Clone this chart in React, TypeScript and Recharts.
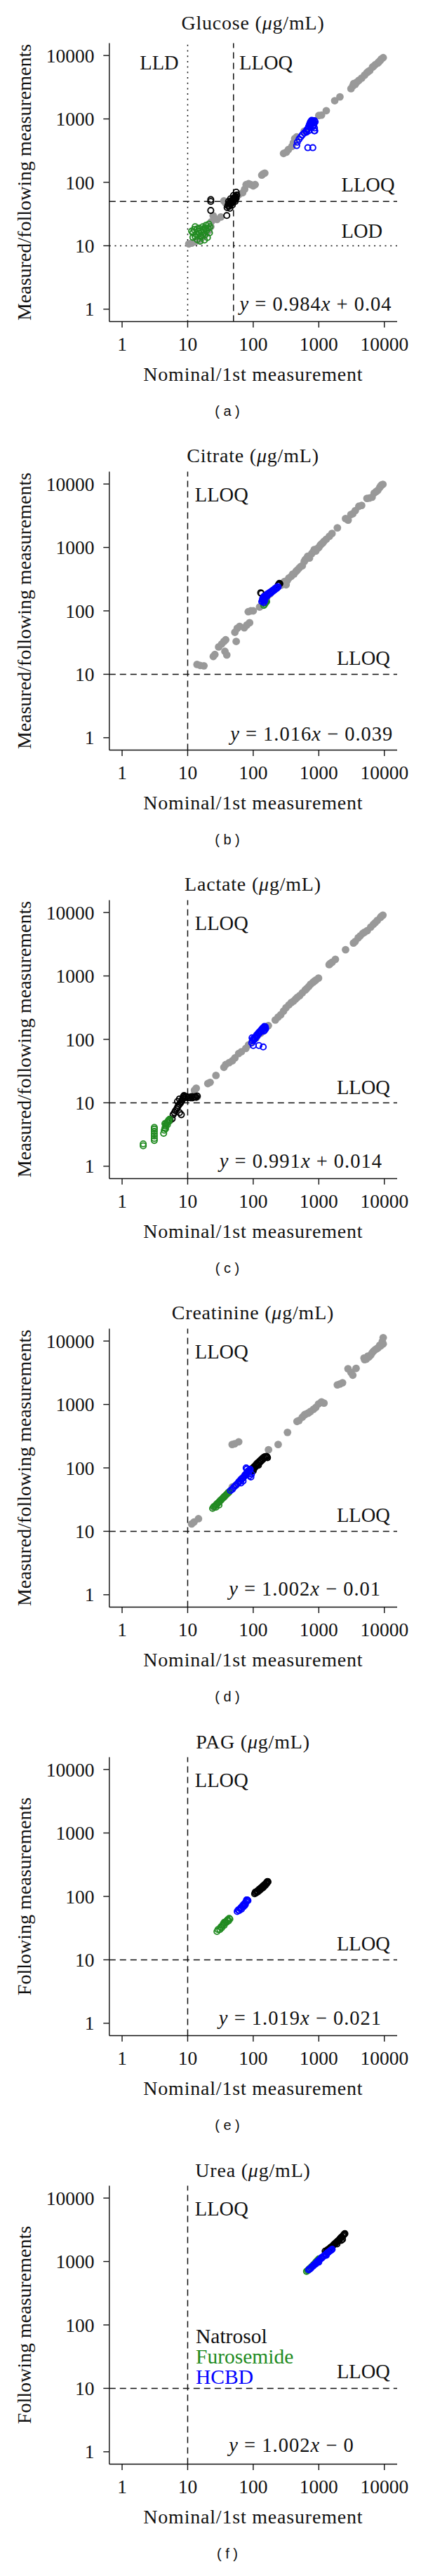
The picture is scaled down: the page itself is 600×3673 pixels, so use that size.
import React from 'react';
import { ScatterChart, Scatter, XAxis, YAxis, ReferenceLine } from 'recharts';

type Pt = [number, number];

// [nominal / 1st measurement, measured / following measurement]
const glucoseOther: Pt[] = [
  [10.4, 10.7], [11.5, 11], [13, 11.6], [15, 12.5], [16.5, 13.5], [18, 14.5], [19.5, 16], [21, 17.5],
  [22.5, 20], [24.5, 29.8], [23, 24], [28, 26], [32, 28.4], [35.7, 51], [38, 47], [55, 60], [60, 64],
  [69, 68.6], [74, 78], [78, 92], [85, 95], [92, 92], [100, 88], [107, 92], [135, 130], [142, 136],
  [150, 140], [290, 286], [320, 300], [345, 330], [390, 370], [410, 420], [430, 490], [460, 520],
  [600, 640], [1000, 1130], [1100, 1150], [1300, 1350], [1750, 1940], [2100, 2230], [3100, 3000],
  [3300, 3300], [3400, 3600], [3600, 3500], [3800, 3800], [4080, 4050], [4500, 4400], [5000, 4900],
  [5430, 5370], [5700, 5600], [6000, 5800], [6600, 6580], [6900, 6800], [7300, 7200], [7940, 7600],
  [8200, 7900], [8600, 8300], [9000, 8800], [9600, 9250],
];
const glucoseNatrosol: Pt[] = [
  [22.5, 53.5], [22.5, 50], [22.5, 36], [39.5, 30], [40, 40], [41, 43], [42, 46], [43, 42], [44, 48],
  [45, 45], [46, 51], [47, 47], [48, 53], [49, 49], [50, 56], [51, 52], [52, 58], [53, 54], [54, 60],
  [55, 56], [56, 63], [55, 70], [50, 62], [45, 55], [42, 50], [48, 44], [44, 39], [53, 50],
];
const glucoseFurosemide: Pt[] = [
  [11.5, 17], [12, 13.6], [12, 16], [12.5, 18], [13, 20], [13, 14], [13.5, 15], [14, 12.5], [14.5, 17],
  [15, 19], [15.5, 11.8], [16, 14], [16.5, 16.5], [17, 20], [17.5, 18], [18, 12.3], [18.5, 15], [19, 21],
  [19.5, 17.5], [20, 13.5], [20.5, 19], [21, 22], [21.5, 16], [22, 20], [14, 18.5], [16, 17.5],
  [18, 19], [15, 15.5], [17, 15], [19, 18.5],
];
const glucoseHcbd: Pt[] = [
  [460, 380], [470, 430], [500, 480], [530, 520], [560, 560], [600, 600], [640, 640], [660, 680],
  [680, 700], [700, 760], [720, 820], [740, 880], [760, 920], [780, 950], [800, 900], [820, 860],
  [840, 800], [860, 720], [870, 650], [800, 750], [760, 800], [700, 650], [650, 620], [880, 900],
  [860, 940], [820, 930], [680, 352], [810, 352], [850, 650], [740, 760], [780, 850], [840, 880],
];

const citrateOther: Pt[] = [
  [13.9, 14.3], [15.5, 13.8], [17.7, 13.6], [24.6, 19.1], [26, 20.5], [29.7, 27], [33, 30], [35.7, 32.9],
  [38, 35], [37, 23], [39.5, 20.2], [52.5, 46], [55, 33], [57, 53], [62, 57], [73, 54], [80, 60], [88, 65],
  [84, 97], [92, 100], [100, 100], [125, 115], [140, 140], [160, 160], [180, 185], [200, 210], [270, 255],
  [300, 290], [317, 258], [330, 300], [350, 330], [380, 350], [400, 380], [420, 382], [450, 420],
  [470, 440], [500, 470], [530, 500], [560, 515], [600, 600], [620, 640], [640, 660], [676, 724],
  [700, 700], [720, 680], [780, 800], [820, 850], [853, 925], [900, 880], [950, 960], [1000, 1000],
  [1050, 1080], [1090, 1130], [1150, 1180], [1200, 1250], [1300, 1350], [1450, 1500], [1590, 1660],
  [1920, 2040], [2560, 2850], [2800, 2700], [3090, 3300], [3300, 3400], [3600, 3800], [4080, 4440],
  [4500, 4600], [5430, 5940], [5900, 6000], [6500, 6200], [7000, 7200], [7500, 7600], [7940, 7950],
  [8500, 8800], [8800, 9300], [9100, 9700], [9500, 9900],
];
const citrateNatrosol: Pt[] = [[130, 193], [133, 188], [245, 262], [250, 272], [255, 268], [240, 255]];
const citrateFurosemide: Pt[] = [[145, 122], [150, 128], [155, 135], [160, 140]];
const citrateHcbd: Pt[] = [
  [135, 140], [138, 150], [140, 160], [142, 145], [145, 168], [148, 155], [150, 172], [155, 165],
  [158, 178], [162, 170], [165, 185], [170, 180], [175, 192], [180, 188], [185, 200], [190, 195],
  [195, 208], [200, 205], [205, 215], [210, 212], [215, 225], [220, 220], [225, 232], [230, 228],
  [235, 240], [240, 238], [145, 135], [150, 145],
];

const lactateOther: Pt[] = [
  [11.5, 12], [12.7, 15.8], [13.5, 17], [14, 12.5], [20.3, 20.1], [22, 21], [27, 27], [35.7, 36.3],
  [38, 40], [43, 43], [48, 46], [52.5, 51], [60, 60], [66, 64], [77, 72], [85, 82], [95, 90], [110, 105],
  [130, 125], [150, 150], [170, 165], [217, 202], [240, 225], [263, 245], [290, 280], [316, 316],
  [350, 350], [381, 382], [410, 400], [440, 430], [470, 460], [510, 490], [560, 540], [620, 600],
  [650, 630], [700, 680], [750, 740], [815, 795], [860, 830], [900, 860], [990, 925], [1440, 1510],
  [1500, 1580], [1600, 1650], [1790, 1830], [2560, 2590], [3380, 3300], [3600, 3500], [4000, 4000],
  [4300, 4300], [4700, 4700], [5000, 4900], [5500, 5200], [6200, 5900], [6800, 6500], [7240, 6930],
  [7800, 7500], [8700, 8350], [9000, 8700], [9500, 9100],
];
const lactateNatrosol: Pt[] = [
  [6, 6.5], [6.3, 7], [6.5, 7.5], [6.8, 8], [7, 8.5], [7.2, 9], [7.5, 9.5], [7.8, 10], [8, 10.5], [8.2, 11],
  [8.4, 11.5], [8.5, 12], [8.6, 12.5], [8.8, 13], [9, 12], [9.5, 12.5], [10, 12], [10.5, 12.3], [11, 12],
  [11.5, 12.5], [12, 12], [12.5, 12.3], [13, 12.5], [13.5, 12.2], [14, 12.8], [8, 6.5], [7.5, 7],
  [7, 10.5], [7.5, 11.5], [5.4, 5.3], [5.8, 5.6],
];
const lactateFurosemide: Pt[] = [
  [2.1, 2.1], [2.1, 2.25], [3.1, 2.55], [3.1, 2.75], [3.1, 3.0], [3.1, 3.25], [3.1, 3.55], [3.1, 3.85],
  [3.1, 4.1], [4.3, 3.3], [4.4, 3.7], [4.5, 4.0], [4.6, 4.3], [4.7, 4.6], [4.8, 4.9], [4.9, 4.5],
  [5.0, 5.0], [5.1, 5.3], [5.2, 5.1], [5.3, 5.5], [4.5, 4.7], [4.6, 3.9],
];
const lactateHcbd: Pt[] = [
  [95, 88], [98, 95], [100, 102], [103, 98], [106, 108], [108, 104], [110, 112], [113, 118], [116, 114],
  [118, 122], [121, 128], [124, 125], [127, 133], [130, 138], [133, 135], [136, 145], [139, 150],
  [142, 146], [145, 155], [148, 160], [150, 152], [153, 158], [155, 148], [150, 140], [145, 135],
  [100, 80], [122, 80], [142, 76], [96, 106],
];

const creatinineOther: Pt[] = [
  [11.5, 13.1], [12.5, 14], [14.6, 15.8], [25, 24], [28, 27], [32, 31], [36, 35], [42, 41], [48, 50],
  [55, 54], [62, 62], [70, 70], [80, 80], [90, 92], [47.7, 234], [52, 240], [60, 258], [171, 193],
  [240, 234], [333, 363], [465, 540], [500, 560], [560, 630], [600, 680], [620, 700], [676, 725],
  [700, 740], [750, 780], [830, 840], [900, 900], [990, 1020], [1100, 1100], [1200, 1050], [1920, 2040],
  [2100, 2100], [2300, 2200], [2790, 3660], [3100, 3200], [3300, 2900], [3700, 3700], [4900, 5400],
  [5000, 5100], [5300, 5200], [5600, 5800], [5800, 5600], [6200, 6000], [6500, 6500], [6800, 6900],
  [7240, 7300], [7700, 7600], [8000, 7800], [8500, 8600], [8800, 8400], [9300, 9800], [9600, 9000],
  [9600, 11300],
];
const creatinineNatrosol: Pt[] = [
  [93, 90], [96, 98], [100, 95], [102, 104], [105, 100], [108, 110], [110, 106], [113, 116], [116, 112],
  [119, 122], [122, 118], [125, 128], [128, 124], [131, 134], [134, 130], [137, 140], [140, 136],
  [143, 145], [146, 142], [150, 150], [154, 147], [158, 152], [162, 150], [165, 145], [120, 110], [100, 90],
];
const creatinineFurosemide: Pt[] = [
  [24, 23], [25, 24.5], [26, 25], [27, 26], [28, 27], [29, 28], [30, 29], [31, 30], [32, 31], [33, 32],
  [34, 33], [35, 34], [36, 35], [37, 36], [38, 37], [39, 38], [40, 39], [41, 40], [42, 41], [43, 42],
  [27, 24], [30, 26],
];
const creatinineHcbd: Pt[] = [
  [45, 44], [48, 46], [50, 49], [53, 52], [55, 54], [58, 57], [60, 60], [63, 62], [65, 66], [68, 68],
  [70, 70], [73, 74], [75, 78], [78, 80], [80, 84], [82, 88], [85, 90], [88, 92], [90, 95], [78, 100],
  [80, 96], [85, 80], [88, 75], [92, 72], [94, 80], [70, 62], [65, 58],
];

const pagNatrosol: Pt[] = [
  [105, 110], [107, 116], [110, 113], [113, 119], [116, 122], [118, 118], [121, 127], [124, 130],
  [126, 125], [129, 134], [132, 137], [135, 133], [138, 142], [141, 146], [144, 141], [147, 151],
  [150, 155], [153, 150], [156, 160], [159, 164], [162, 168], [165, 172], [168, 170], [160, 158], [140, 137],
];
const pagFurosemide: Pt[] = [
  [28, 28], [29, 30], [31, 30], [32, 33], [33, 32], [34, 35], [35, 37], [36, 35], [37, 38], [38, 40],
  [39, 39], [40, 42], [41, 43], [42, 41], [43, 45], [44, 44], [36, 39],
];
const pagHcbd: Pt[] = [
  [57, 58], [59, 61], [61, 60], [63, 64], [65, 67], [66, 63], [68, 70], [70, 73], [71, 69], [73, 76],
  [75, 79], [76, 75], [78, 82], [80, 85], [81, 88], [83, 86], [79, 88], [74, 72],
];

const ureaNatrosol: Pt[] = [
  [1250, 1460], [1300, 1420], [1350, 1520], [1400, 1550], [1450, 1600], [1500, 1650], [1550, 1700],
  [1600, 1720], [1650, 1800], [1700, 1850], [1750, 1900], [1800, 1950], [1850, 2000], [1900, 2050],
  [1950, 2100], [2000, 2150], [2050, 2200], [2100, 2280], [2150, 2350], [2200, 2400], [2250, 2450],
  [2300, 2240], [2350, 2550], [2400, 2650], [2450, 2700], [2500, 2750], [2200, 2150], [1900, 1900],
];
const ureaFurosemide: Pt[] = [
  [650, 700], [680, 720], [700, 750], [720, 770], [750, 800], [780, 830], [820, 880], [860, 920],
  [900, 980], [950, 1040], [1000, 1100],
];
const ureaHcbd: Pt[] = [
  [700, 740], [730, 760], [760, 790], [790, 830], [820, 850], [850, 890], [880, 910], [910, 950],
  [940, 980], [970, 1010], [1000, 1040], [1040, 1080], [1080, 1110], [1120, 1150], [1160, 1190],
  [1200, 1230], [1250, 1270], [1300, 1320], [1350, 1370], [1400, 1400], [1450, 1450], [1500, 1480],
  [1550, 1520], [1600, 1560], [1000, 980], [1100, 1150], [900, 920], [1300, 1250],
];

const decadeTicks = [1, 10, 100, 1000, 10000];
const AXIS_MIN = Math.pow(10, -0.195);
const AXIS_MAX = Math.pow(10, 4.195);

const W = 600;
const H = 611;
const SERIF = '"Liberation Serif", "Times New Roman", serif';
const INK = '#111111';
const GRAY = '#999999';
const GREEN = '#228B22';
const BLUE = '#0000FF';

const toXY = (pts: Pt[]) => pts.map(([x, y]) => ({ x, y }));

interface Note {
  x: number;
  y: number;
  body: React.ReactNode;
  anchor?: 'start' | 'middle' | 'end';
  color?: string;
  size?: number;
  spacing?: number;
}

interface PanelCfg {
  analyte: string;
  titleY: number;
  yLabel: string;
  letter: string;
  other: Pt[];
  natrosol: Pt[];
  furosemide: Pt[];
  hcbd: Pt[];
  vLines: { x: number; dotted?: boolean }[];
  hLines: { y: number; dotted?: boolean }[];
  notes: Note[];
}

const eq = (slope: string, rest: string) => (
  <>
    <tspan fontStyle="italic">y</tspan>
    {' = ' + slope}
    <tspan fontStyle="italic">x</tspan>
    {' ' + rest}
  </>
);

const lloqTop: Note = { x: 12.9, y: 6900, body: 'LLOQ', anchor: 'start' };
const lloqRight = (y: number): Note => ({ x: 1880, y, body: 'LLOQ', anchor: 'start' });
const eqNote = (x: number, y: number, slope: string, rest: string): Note => ({
  x, y, body: eq(slope, rest), anchor: 'middle', spacing: 1,
});

const panels: PanelCfg[] = [
  {
    analyte: 'Glucose', titleY: 42, yLabel: 'Measured/following measurements', letter: 'a',
    other: glucoseOther, natrosol: glucoseNatrosol, furosemide: glucoseFurosemide, hcbd: glucoseHcbd,
    vLines: [{ x: 10, dotted: true }, { x: 50 }],
    hLines: [{ y: 10, dotted: true }, { y: 50 }],
    notes: [
      { x: 7.3, y: 7870, body: 'LLD', anchor: 'end' },
      { x: 61.4, y: 7870, body: 'LLOQ', anchor: 'start' },
      { x: 2210, y: 92, body: 'LLOQ', anchor: 'start' },
      { x: 2210, y: 17.4, body: 'LOD', anchor: 'start' },
      eqNote(900, 1.23, '0.984', '+ 0.04'),
    ],
  },
  {
    analyte: 'Citrate', titleY: 47.5, yLabel: 'Measured/following measurements', letter: 'b',
    other: citrateOther, natrosol: citrateNatrosol, furosemide: citrateFurosemide, hcbd: citrateHcbd,
    vLines: [{ x: 10 }], hLines: [{ y: 10 }],
    notes: [lloqTop, lloqRight(18.3), eqNote(780, 1.17, '1.016', '\u2212 0.039')],
  },
  {
    analyte: 'Lactate', titleY: 47.5, yLabel: 'Measured/following measurements', letter: 'c',
    other: lactateOther, natrosol: lactateNatrosol, furosemide: lactateFurosemide, hcbd: lactateHcbd,
    vLines: [{ x: 10 }], hLines: [{ y: 10 }],
    notes: [lloqTop, lloqRight(17.7), eqNote(534, 1.23, '0.991', '+ 0.014')],
  },
  {
    analyte: 'Creatinine', titleY: 48, yLabel: 'Measured/following measurements', letter: 'd',
    other: creatinineOther, natrosol: creatinineNatrosol, furosemide: creatinineFurosemide, hcbd: creatinineHcbd,
    vLines: [{ x: 10 }], hLines: [{ y: 10 }],
    notes: [lloqTop, lloqRight(18.3), eqNote(615, 1.24, '1.002', '\u2212 0.01')],
  },
  {
    analyte: 'PAG', titleY: 48.5, yLabel: 'Following measurements', letter: 'e',
    other: [], natrosol: pagNatrosol, furosemide: pagFurosemide, hcbd: pagHcbd,
    vLines: [{ x: 10 }], hLines: [{ y: 10 }],
    notes: [lloqTop, lloqRight(18.0), eqNote(522, 1.21, '1.019', '\u2212 0.021')],
  },
  {
    analyte: 'Urea', titleY: 48.5, yLabel: 'Following measurements', letter: 'f',
    other: [], natrosol: ureaNatrosol, furosemide: ureaFurosemide, hcbd: ureaHcbd,
    vLines: [{ x: 10 }], hLines: [{ y: 10 }],
    notes: [
      lloqTop, lloqRight(18.8), eqNote(384, 1.27, '1.002', '\u2212 0'),
      { x: 13.3, y: 67.2, body: 'Natrosol', anchor: 'start', size: 29.5 },
      { x: 13.3, y: 32.2, body: 'Furosemide', anchor: 'start', color: GREEN, size: 29.5 },
      { x: 13.3, y: 15.4, body: 'HCBD', anchor: 'start', color: BLUE, size: 29.5 },
    ],
  },
];

const axisStyle = { stroke: INK, strokeWidth: 1.4 };

const renderXTick = (p: any) => (
  <text x={p.x} y={p.y} dy="0.35em" textAnchor="middle" fontFamily={SERIF} fontSize={27.5} fill={INK}>
    {p.payload.value}
  </text>
);

const renderYTick = (p: any) => (
  <text x={p.x} y={p.y} dy="0.35em" textAnchor="end" fontFamily={SERIF} fontSize={27.5} fill={INK}>
    {p.payload.value}
  </text>
);

const grayDot = (p: any) => <circle cx={p.cx} cy={p.cy} r={5.4} fill={GRAY} />;
const ring = (color: string) => (p: any) => (
  <circle cx={p.cx} cy={p.cy} r={4.1} fill="none" stroke={color} strokeWidth={1.9} />
);

const noteShape = (n: Note) => (p: any) => (
  <text
    x={p.cx}
    y={p.cy}
    dy="0.35em"
    textAnchor={n.anchor || 'start'}
    fontFamily={SERIF}
    fontSize={n.size || 28.5}
    letterSpacing={n.spacing || 0}
    fill={n.color || INK}
  >
    {n.body}
  </text>
);

const Panel = ({ cfg }: { cfg: PanelCfg }) => (
  <div style={{ position: 'relative', width: W, height: H }}>
    <ScatterChart width={W} height={H} margin={{ top: 61.5, right: 34, bottom: 92.5, left: 0 }}>
      <XAxis
        type="number"
        dataKey="x"
        scale="log"
        domain={[AXIS_MIN, AXIS_MAX]}
        ticks={decadeTicks}
        interval={0}
        height={60}
        tickSize={8.5}
        tickMargin={23.4}
        axisLine={axisStyle}
        tickLine={axisStyle}
        tick={renderXTick}
      />
      <YAxis
        type="number"
        dataKey="y"
        scale="log"
        domain={[AXIS_MIN, AXIS_MAX]}
        ticks={decadeTicks}
        interval={0}
        width={155.8}
        tickSize={8.5}
        tickMargin={12.7}
        axisLine={axisStyle}
        tickLine={axisStyle}
        tick={renderYTick}
      />
      {cfg.vLines.map((v, i) => (
        <ReferenceLine key={'v' + i} x={v.x} stroke={INK} strokeWidth={1.5}
          strokeDasharray={v.dotted ? '2 5.7' : '9 6'} />
      ))}
      {cfg.hLines.map((h, i) => (
        <ReferenceLine key={'h' + i} y={h.y} stroke={INK} strokeWidth={1.5}
          strokeDasharray={h.dotted ? '2 5.7' : '9 6'} />
      ))}
      {cfg.other.length > 0 && (
        <Scatter data={toXY(cfg.other)} shape={grayDot} isAnimationActive={false} />
      )}
      <Scatter data={toXY(cfg.natrosol)} shape={ring('#000000')} isAnimationActive={false} />
      <Scatter data={toXY(cfg.furosemide)} shape={ring(GREEN)} isAnimationActive={false} />
      <Scatter data={toXY(cfg.hcbd)} shape={ring(BLUE)} isAnimationActive={false} />
      {cfg.notes.map((n, i) => (
        <Scatter key={'n' + i} data={[{ x: n.x, y: n.y }]} shape={noteShape(n)} isAnimationActive={false} />
      ))}
    </ScatterChart>
    <svg width={W} height={H} style={{ position: 'absolute', left: 0, top: 0, pointerEvents: 'none' }}>
      <text x={360.5} y={cfg.titleY} textAnchor="middle" fontFamily={SERIF} fontSize={28}
        letterSpacing={0.8} fill={INK}>
        {cfg.analyte + ' ('}
        <tspan fontStyle="italic">μ</tspan>
        {'g/mL)'}
      </text>
      <text x={360.8} y={532.7} dy="0.35em" textAnchor="middle" fontFamily={SERIF} fontSize={28}
        letterSpacing={0.8} fill={INK}>
        Nominal/1st measurement
      </text>
      <text transform="translate(44,260) rotate(-90)" textAnchor="middle" fontFamily={SERIF}
        fontSize={28} fill={INK}>
        {cfg.yLabel}
      </text>
      <text x={324} y={593} textAnchor="middle" fontFamily='"Liberation Sans", Arial, sans-serif'
        fontSize={20} fill={INK} style={{ whiteSpace: 'pre' }}>
        {'( ' + cfg.letter + ' )'}
      </text>
    </svg>
  </div>
);

export default function App() {
  return (
    <div style={{ width: W, background: '#fff' }}>
      <style>{'body { margin: 0; }'}</style>
      {panels.map((cfg) => (
        <Panel key={cfg.letter} cfg={cfg} />
      ))}
    </div>
  );
}
